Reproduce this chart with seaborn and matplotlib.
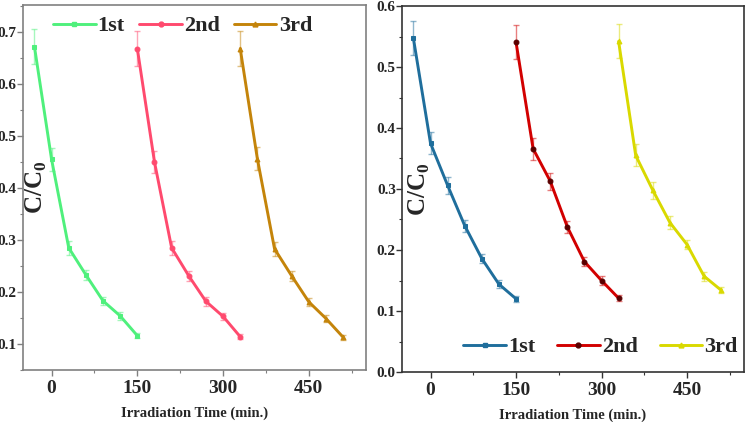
import matplotlib
matplotlib.use("Agg")
import matplotlib.pyplot as plt
import seaborn as sns
import pandas as pd
from matplotlib.lines import Line2D
from matplotlib.ticker import MultipleLocator

sns.set_style("white")
plt.rcParams['font.family'] = ['Liberation Serif', 'DejaVu Serif']
plt.rcParams['font.weight'] = 'bold'
plt.rcParams['mathtext.fontset'] = 'custom'
plt.rcParams['mathtext.rm'] = 'Liberation Serif:bold'
plt.rcParams['mathtext.bf'] = 'Liberation Serif:bold'

runs = ['1st', '2nd', '3rd']
time_1st = [-30, 0, 30, 60, 90, 120, 150]
time_2nd = [150, 180, 210, 240, 270, 300, 330]
time_3rd = [330, 360, 390, 420, 450, 480, 510]

# left panel
left_1st = [0.672, 0.455, 0.285, 0.233, 0.183, 0.154, 0.116]
left_2nd = [0.668, 0.450, 0.285, 0.231, 0.182, 0.153, 0.114]
left_3rd = [0.668, 0.456, 0.283, 0.231, 0.181, 0.149, 0.113]
left_err = [0.034, 0.022, 0.013, 0.009, 0.008, 0.007, 0.005]

# right panel
right_1st = [0.547, 0.375, 0.306, 0.240, 0.186, 0.144, 0.120]
right_2nd = [0.541, 0.366, 0.313, 0.238, 0.181, 0.150, 0.121]
right_3rd = [0.542, 0.355, 0.298, 0.245, 0.209, 0.157, 0.134]
right_err = [0.028, 0.018, 0.014, 0.010, 0.008, 0.007, 0.005]

markers = ['s', 'o', '^']
left_colors = ['#4FF07C', '#FF4A6E', '#C4840A']
left_mec = ['#4FF07C', '#FF4A6E', '#C4840A']
right_colors = ['#1F6E9C', '#D20000', '#D9D900']
right_mec = ['#1F6E9C', '#5A0000', '#D9D900']

times = [time_1st, time_2nd, time_3rd]


def make_df(series, err):
    rows = []
    for run, t, vals in zip(runs, times, series):
        for x, y, e in zip(t, vals, err):
            rows.append({'run': run, 'time': x, 'cc0': y, 'err': e})
    return pd.DataFrame(rows)


df_left = make_df([left_1st, left_2nd, left_3rd], left_err)
df_right = make_df([right_1st, right_2nd, right_3rd], right_err)

fig = plt.figure(figsize=(7.46, 4.22), dpi=100)
ax1 = fig.add_axes([23 / 746, 52 / 422, 343 / 746, 365 / 422])
ax2 = fig.add_axes([402 / 746, 50 / 422, 342 / 746, 366 / 422])

leg_font = {'family': 'Liberation Serif', 'weight': 'bold', 'size': 16}


def draw(ax, df, colors, mecs):
    handles = []
    for run, c, mk, mec in zip(runs, colors, markers, mecs):
        d = df[df['run'] == run]
        ax.errorbar(d['time'], d['cc0'], yerr=d['err'], fmt='none',
                    ecolor=c, alpha=0.5, capsize=2.5, elinewidth=1.0,
                    capthick=1.0, zorder=2)
        sns.lineplot(data=d, x='time', y='cc0', ax=ax, color=c, marker=mk,
                     markersize=3.5, markeredgecolor=mec, markerfacecolor=mec,
                     linewidth=2.1, zorder=3, legend=False)
        handles.append(Line2D([0], [0], color=c, marker=mk, markersize=3.5,
                              markeredgecolor=mec, markerfacecolor=mec,
                              linewidth=2.1, label=run))
    ax.set_xlim(-50, 550)
    ax.xaxis.set_major_locator(MultipleLocator(150))
    ax.xaxis.set_minor_locator(MultipleLocator(75))
    ax.yaxis.set_minor_locator(MultipleLocator(0.05))
    ax.set_xlabel('Irradiation Time (min.)', fontsize=10.5, fontweight='bold',
                  labelpad=7)
    ax.set_ylabel('C/C$_0$', fontsize=18, fontweight='bold')
    ax.tick_params(axis='both', which='major', direction='out', length=4,
                   width=1, pad=0.5, bottom=True, left=True)
    ax.tick_params(axis='both', which='minor', direction='out', length=2.5,
                   width=0.8, bottom=True, left=True)
    ax.tick_params(axis='x', labelsize=14, pad=3)
    return handles


h1 = draw(ax1, df_left, left_colors, left_mec)
ax1.set_ylim(0.05, 0.752)
ax1.set_yticks([0.1, 0.2, 0.3, 0.4, 0.5, 0.6, 0.7])
for s in ax1.spines.values():
    s.set_color('#808080')
    s.set_linewidth(1.2)
ax1.tick_params(which='both', color='#808080')
ax1.yaxis.set_label_coords(0.075, 0.5)
ax1.legend(handles=h1, loc='upper left', bbox_to_anchor=(0.03, 1.025), ncol=3,
           frameon=False, prop=leg_font,
           handlelength=1.9, handletextpad=0.1, columnspacing=0.65)

h2 = draw(ax2, df_right, right_colors, right_mec)
ax2.set_ylim(0.0, 0.6)
ax2.set_yticks([0.0, 0.1, 0.2, 0.3, 0.4, 0.5, 0.6])
for s in ax2.spines.values():
    s.set_color('#333333')
    s.set_linewidth(1.2)
ax2.tick_params(which='both', color='#333333')
ax2.yaxis.set_label_coords(0.088, 0.5)
ax2.legend(handles=h2, loc='lower right', bbox_to_anchor=(1.04, -0.015), ncol=3,
           frameon=False, prop=leg_font,
           handlelength=1.9, handletextpad=0.1, columnspacing=1.0)

for ax in (ax1, ax2):
    ax.set_yticklabels([f'{v:.1f}' for v in ax.get_yticks()], fontweight='bold',
                       fontsize=11)
    for lab in ax.get_xticklabels():
        lab.set_fontweight('bold')

fig.savefig('out.png', dpi=100)
